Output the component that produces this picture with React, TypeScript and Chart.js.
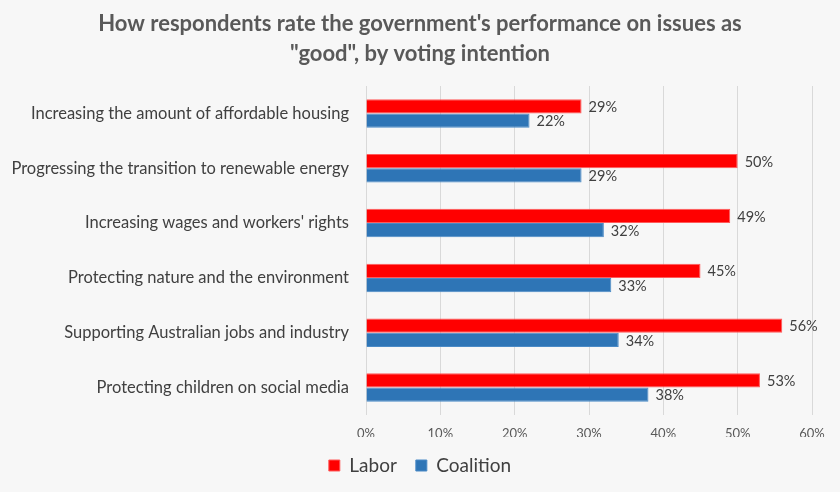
import React, { useEffect, useRef } from "react";
import { Chart, registerables } from "chart.js";

Chart.register(...registerables);

const titleLines = [
  "How respondents rate the government's performance on issues as",
  "\"good\", by voting intention",
];
const categories = [
  "Increasing the amount of affordable housing",
  "Progressing the transition to renewable energy",
  "Increasing wages and workers' rights",
  "Protecting nature and the environment",
  "Supporting Australian jobs and industry",
  "Protecting children on social media",
];
const laborValues = [29, 50, 49, 45, 56, 53];
const coalitionValues = [22, 29, 32, 33, 34, 38];
const seriesNames = ["Labor", "Coalition"];
const xMax = 60;
const xStep = 10;

const FONT = "Lato, 'Open Sans', sans-serif";

const bgPlugin = {
  id: "bg",
  beforeDraw(chart: any) {
    const ctx = chart.ctx;
    ctx.save();
    ctx.fillStyle = "#f7f7f7";
    ctx.fillRect(0, 0, chart.width, chart.height);
    ctx.restore();
  },
};

const labelPlugin = {
  id: "valueLabels",
  afterDatasetsDraw(chart: any) {
    const ctx = chart.ctx;
    ctx.save();
    ctx.font = `14.5px ${FONT}`;
    ctx.fillStyle = "#404040";
    ctx.textAlign = "left";
    ctx.textBaseline = "middle";
    chart.data.datasets.forEach((ds: any, di: number) => {
      const meta = chart.getDatasetMeta(di);
      meta.data.forEach((bar: any, i: number) => {
        ctx.fillText(`${ds.data[i]}%`, bar.x + 7, bar.y + 1);
      });
    });
    ctx.restore();
  },
};

export default function App() {
  const ref = useRef<HTMLCanvasElement>(null);
  useEffect(() => {
    const chart = new Chart(ref.current as HTMLCanvasElement, {
      type: "bar",
      data: {
        labels: categories,
        datasets: [
          {
            label: seriesNames[0],
            data: laborValues,
            backgroundColor: "#ff0000",
            borderColor: "#ff5a5a",
            borderWidth: 1,
            categoryPercentage: 0.52,
            barPercentage: 1,
          },
          {
            label: seriesNames[1],
            data: coalitionValues,
            backgroundColor: "#2e75b6",
            borderColor: "#4a8ac6",
            borderWidth: 1,
            categoryPercentage: 0.52,
            barPercentage: 1,
          },
        ],
      },
      options: {
        indexAxis: "y",
        responsive: false,
        animation: false,
        layout: { padding: { left: 0, right: 0, top: 0, bottom: 7 } },
        plugins: {
          title: {
            display: true,
            text: titleLines,
            color: "#595959",
            font: { family: FONT, size: 22, weight: "bold", lineHeight: 30 / 22 },
            padding: { top: 9, bottom: 17 },
          },
          legend: {
            display: true,
            position: "bottom",
            labels: {
              color: "#404040",
              font: { family: FONT, size: 19 },
              boxWidth: 11,
              boxHeight: 11,
              padding: 19,
            },
          },
          tooltip: { enabled: false },
        },
        scales: {
          x: {
            min: 0,
            max: xMax,
            ticks: {
              stepSize: xStep,
              color: "#595959",
              font: { family: FONT, size: 13 },
              padding: 11,
              callback: (v: any) => `${v}%`,
            },
            grid: { color: "#d9d9d9", lineWidth: 1, drawTicks: false },
            border: { display: false },
            afterFit: (s: any) => {
              s.height = 22;
            },
          },
          y: {
            ticks: {
              color: "#404040",
              font: { family: FONT, size: 16.5 },
              padding: 17,
            },
            grid: { display: false, drawTicks: false },
            border: { display: false },
            afterFit: (s: any) => {
              s.width = 366;
            },
          },
          yRight: {
            type: "linear",
            position: "right",
            display: true,
            ticks: { display: false },
            grid: { display: false, drawTicks: false },
            border: { display: false },
            afterFit: (s: any) => {
              s.width = 28;
            },
          },
        },
      },
      plugins: [bgPlugin, labelPlugin],
    } as any);
    return () => chart.destroy();
  }, []);
  return (
    <div style={{ position: "absolute", left: 0, top: 0, width: 840, height: 492, background: "#f7f7f7" }}>
      <canvas ref={ref} width={840} height={492} />
    </div>
  );
}
